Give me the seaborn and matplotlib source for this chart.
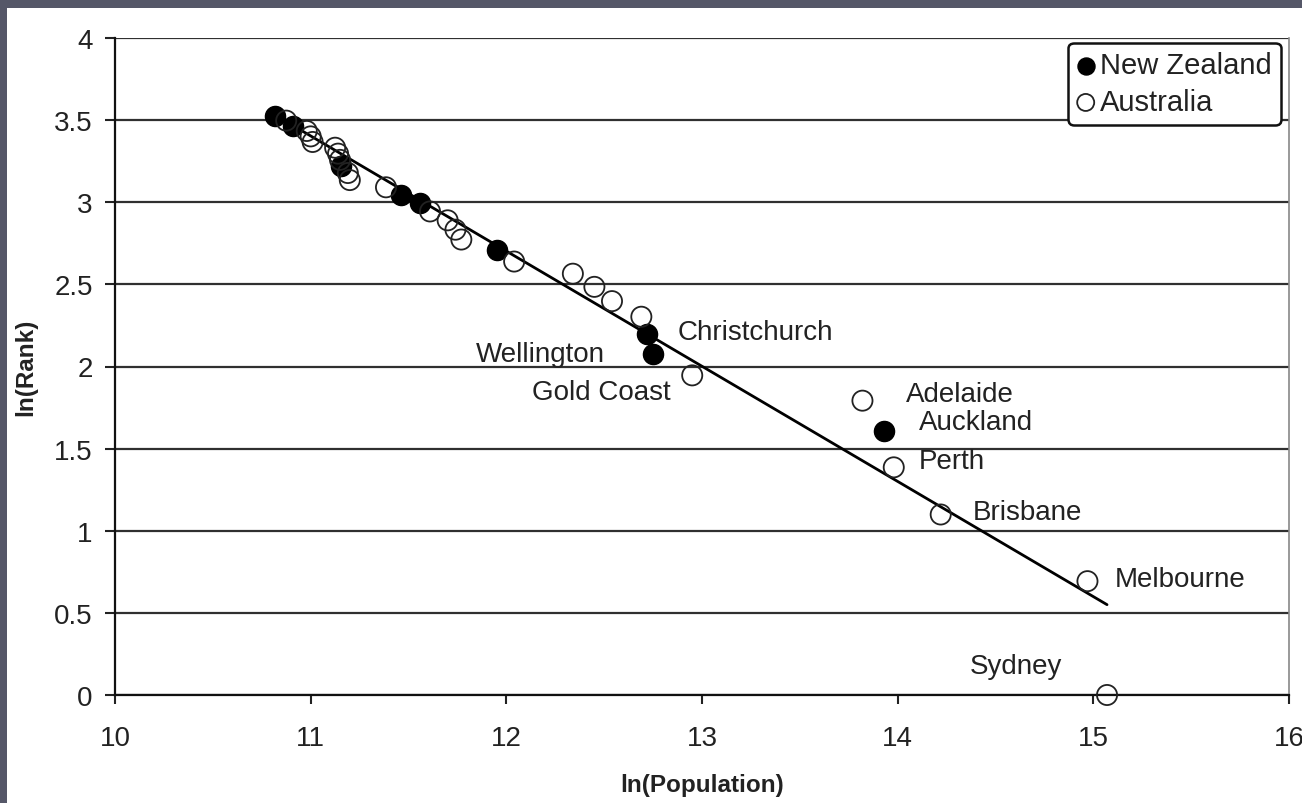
import matplotlib
matplotlib.use("Agg")
import matplotlib.pyplot as plt
import seaborn as sns
import pandas as pd
from matplotlib.patches import Rectangle

# ---- data ----
nz_lnpop = [10.82, 10.91, 11.155, 11.46, 11.56, 11.95, 12.72, 12.75, 13.93]
nz_lnrank = [3.526, 3.466, 3.219, 3.045, 2.996, 2.708, 2.197, 2.079, 1.609]

au_lnpop = [15.07, 14.97, 14.22, 13.98, 13.82, 12.95, 12.69, 12.54, 12.45, 12.34,
            12.04, 11.77, 11.74, 11.70, 11.61, 11.385, 11.20, 11.19, 11.15, 11.14,
            11.125, 11.01, 11.00, 10.98, 10.875]
au_lnrank = [0.0, 0.693, 1.099, 1.386, 1.792, 1.946, 2.303, 2.398, 2.485, 2.565,
             2.639, 2.773, 2.833, 2.890, 2.944, 3.091, 3.135, 3.178, 3.258, 3.296,
             3.332, 3.367, 3.401, 3.434, 3.497]

trend_x = [10.82, 15.07]
trend_y = [3.53, 0.55]

city_names = ["Christchurch", "Wellington", "Gold Coast", "Adelaide", "Auckland",
              "Perth", "Brisbane", "Melbourne", "Sydney"]
city_label_x = [12.877, 11.845, 12.13, 14.04, 14.11, 14.11, 14.385, 15.11, 14.37]
city_label_y = [2.21, 2.076, 1.845, 1.83, 1.66, 1.425, 1.114, 0.706, 0.177]

x_ticks = [10, 11, 12, 13, 14, 15, 16]
y_ticks = [0, 0.5, 1, 1.5, 2, 2.5, 3, 3.5, 4]
y_tick_labels = ["0", "0.5", "1", "1.5", "2", "2.5", "3", "3.5", "4"]

nz = pd.DataFrame({"lnpop": nz_lnpop, "lnrank": nz_lnrank})
au = pd.DataFrame({"lnpop": au_lnpop, "lnrank": au_lnrank})
trend = pd.DataFrame({"x": trend_x, "y": trend_y})

sns.set_theme(style="white")
plt.rcParams["font.family"] = ["Liberation Sans", "DejaVu Sans"]

fig = plt.figure(figsize=(13.02, 8.04), dpi=100)
fig.patch.set_facecolor("white")
ax = fig.add_axes([115 / 1302, 1 - 696 / 804, (1289 - 115) / 1302, (696 - 39) / 804])

# border bands of the reference image
border = "#555768"
fig.patches.append(Rectangle((0, 1 - 9 / 804), 1, 9 / 804, transform=fig.transFigure,
                             facecolor=border, edgecolor="none", zorder=0))
fig.patches.append(Rectangle((0, 0), 7 / 1302, 1, transform=fig.transFigure,
                             facecolor=border, edgecolor="none", zorder=0))

# gridlines
ax.set_axisbelow(True)
ax.yaxis.grid(True, color="#303030", linewidth=1.6)
ax.xaxis.grid(False)

sns.lineplot(data=trend, x="x", y="y", color="black", linewidth=2.0, ax=ax,
             zorder=3, legend=False)
sns.scatterplot(data=nz, x="lnpop", y="lnrank", color="black", edgecolor="black",
                s=210, linewidth=1.0, ax=ax, label="New Zealand", zorder=4, clip_on=False)
sns.scatterplot(data=au, x="lnpop", y="lnrank", facecolors="none", edgecolor="#222222",
                s=210, linewidth=1.3, ax=ax, label="Australia", zorder=4, clip_on=False)

for name, lx, ly in zip(city_names, city_label_x, city_label_y):
    ax.text(lx, ly, name, ha="left", va="center", fontsize=20, color="#222222", zorder=5)

ax.set_xlim(10, 16)
ax.set_ylim(0, 4)
ax.set_xticks(x_ticks)
ax.set_yticks(y_ticks)
ax.set_yticklabels(y_tick_labels)
ax.tick_params(axis="both", labelsize=20, colors="#222222")
ax.tick_params(axis="y", direction="out", length=7, width=1.5, pad=9, left=True)
ax.tick_params(axis="x", direction="out", length=6.5, width=1.5, pad=15, bottom=True)

ax.set_xlabel("ln(Population)", fontsize=17.5, fontweight="bold", color="#222222", labelpad=16)
ax.set_ylabel("ln(Rank)", fontsize=17.5, fontweight="bold", color="#222222", labelpad=12)

for side in ["left", "bottom"]:
    ax.spines[side].set_color("#111111")
    ax.spines[side].set_linewidth(1.6)
ax.spines["top"].set_visible(False)
ax.spines["right"].set_color("#888888")
ax.spines["right"].set_linewidth(1.2)

leg = ax.legend(loc="upper right", bbox_to_anchor=(0.993, 0.993), fontsize=21,
                frameon=True, fancybox=True, edgecolor="#111111", framealpha=1,
                handlelength=0.6, handletextpad=0.2, borderpad=0.3,
                labelspacing=0.3, borderaxespad=0)
leg.get_frame().set_linewidth(1.8)
for h in leg.legend_handles:
    h.set_sizes([150])
for t in leg.get_texts():
    t.set_color("#222222")

fig.savefig("out.png", dpi=100)
